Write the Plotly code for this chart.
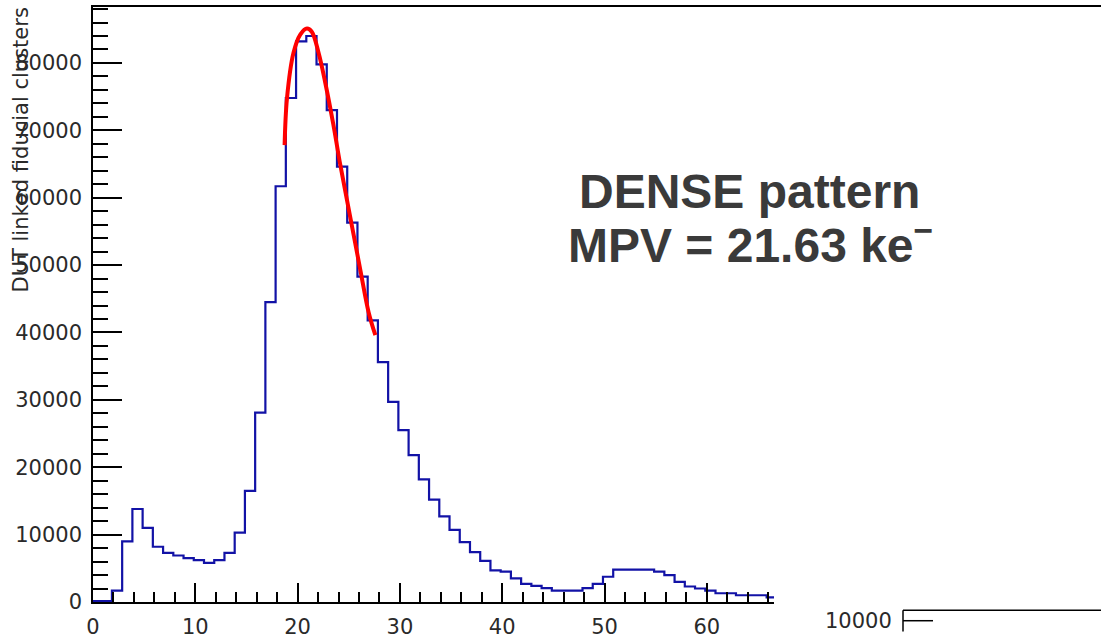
import numpy as np
import plotly.graph_objects as go

# ---------------- data ----------------
bin_index = list(range(0, 67))
bin_offset = -0.15  # lower edge of bin k is k + bin_offset
counts = [150, 150, 1700, 9000, 13800, 11000, 8200, 7300, 6900, 6500,
          6200, 5800, 6200, 7300, 10300, 16500, 28100, 44500, 61700, 74800,
          83200, 84000, 79800, 73000, 64600, 56300, 48300, 41800, 35600, 29700,
          25500, 21800, 18200, 15200, 12700, 10700, 8900, 7400, 6100, 4700,
          4500, 3500, 2700, 2400, 2050, 1700, 1700, 1700, 2050, 2700,
          3750, 4800, 4800, 4800, 4800, 4500, 4000, 3000, 2300, 2000,
          1700, 1300, 1300, 1000, 1000, 1000, 700]

fit_x = [18.73, 18.96, 19.6, 20.26, 20.92, 21.4, 22.05, 22.7, 23.5, 24.17,
         25.15, 26.13, 26.94, 27.6]
fit_y = [67800, 74700, 81500, 84200, 85100, 84600, 81500, 77100, 70800, 64900,
         57100, 49300, 43000, 39600]

x_major_ticks = [0, 10, 20, 30, 40, 50, 60]
x_minor_ticks = [2, 4, 6, 8, 12, 14, 16, 18, 22, 24, 26, 28, 32, 34, 36, 38,
                 42, 44, 46, 48, 52, 54, 56, 58, 62, 64, 66]

y_title = "DUT linked fiducial clusters"
label_line1 = "DENSE pattern"
label_line2 = "MPV = 21.63 ke<sup>−</sup>"
inset_label = "10000"

# ---------------- geometry ----------------
FW, FH = 1101, 639
L, T, B, R = 93, 7, 28, 0
W = FW - L - R
H = FH - T - B
px_per_unit = 10.23
px_per_count = 6.84 / 1000.0
x_max = W / px_per_unit
y_max = H / px_per_count


def pxx(px):
    return (px - L) / W


def pxy(py):
    return (FH - B - py) / H


edges = [k + bin_offset for k in bin_index]
step_x = edges + [edges[-1] + 1]
step_y = counts + [counts[-1]]

fig = go.Figure()
fig.add_trace(go.Scatter(x=step_x, y=step_y, mode="lines",
                         line=dict(color="#1212a6", width=2.2, shape="hv"),
                         hoverinfo="skip", showlegend=False))
fig.add_trace(go.Scatter(x=fit_x, y=fit_y, mode="lines",
                         line=dict(color="#ff0000", width=4, shape="spline"),
                         hoverinfo="skip", showlegend=False))

tickfont = dict(family="DejaVu Sans", size=21, color="#2a2a2a")

fig.update_layout(
    width=FW, height=FH,
    margin=dict(l=L, r=R, t=T, b=B, pad=0),
    paper_bgcolor="white", plot_bgcolor="white",
    showlegend=False,
    xaxis=dict(range=[0, x_max], showgrid=False, zeroline=False,
               showline=True, linecolor="black", linewidth=1.5, mirror=True,
               ticks="inside", ticklen=19, tickwidth=1.5, tickcolor="black",
               tickmode="array", tickvals=x_major_ticks,
               ticktext=[str(v) for v in x_major_ticks],
               tickfont=tickfont, ticklabelstandoff=5,
               minor=dict(ticks="inside", ticklen=10, tickmode="array",
                          tickvals=x_minor_ticks,
                          tickcolor="black", tickwidth=1.5, showgrid=False)),
    yaxis=dict(range=[0, y_max], showgrid=False, zeroline=False,
               showline=True, linecolor="black", linewidth=1.5,
               ticks="inside", ticklen=29, tickwidth=1.5, tickcolor="black",
               dtick=10000, tick0=0, tickformat="d", tickfont=tickfont,
               ticklabelstandoff=5,
               minor=dict(ticks="inside", ticklen=15, dtick=2000, tick0=0,
                          tickcolor="black", tickwidth=1.5, showgrid=False)),
)

# y axis title (ROOT style, aligned at the top end of the axis)
fig.add_annotation(text=y_title, textangle=-90, showarrow=False,
                   xref="paper", yref="paper", x=pxx(21), y=pxy(6),
                   xanchor="center", yanchor="top",
                   font=dict(family="DejaVu Sans", size=21, color="#2a2a2a"))

# fit label text
big = dict(family="Liberation Sans", size=48, color="#3a3a3a")
fig.add_annotation(text="<b>" + label_line1 + "</b>", showarrow=False,
                   xref="paper", yref="paper", x=pxx(749), y=pxy(194),
                   xanchor="center", yanchor="middle", font=big)
fig.add_annotation(text="<b>" + label_line2 + "</b>", showarrow=False,
                   xref="paper", yref="paper", x=pxx(750), y=pxy(246),
                   xanchor="center", yanchor="middle", font=big)

# neighbouring pad overlapping the lower right corner
fig.add_shape(type="rect", xref="paper", yref="paper",
              x0=pxx(774), x1=pxx(FW + 2), y0=pxy(FH + 2), y1=pxy(603),
              fillcolor="white", line=dict(width=0), layer="above")
fig.add_shape(type="line", xref="paper", yref="paper",
              x0=pxx(903), x1=pxx(FW + 2), y0=pxy(619.5), y1=pxy(619.5),
              line=dict(color="black", width=1.5), layer="above")
fig.add_shape(type="line", xref="paper", yref="paper",
              x0=pxx(903), x1=pxx(903), y0=pxy(619.5), y1=pxy(FH + 2),
              line=dict(color="black", width=1.5), layer="above")
fig.add_shape(type="line", xref="paper", yref="paper",
              x0=pxx(903), x1=pxx(933), y0=pxy(630), y1=pxy(630),
              line=dict(color="black", width=1.5), layer="above")
fig.add_annotation(text=inset_label, showarrow=False,
                   xref="paper", yref="paper", x=pxx(894), y=pxy(630),
                   xanchor="right", yanchor="middle", font=tickfont)

fig.write_html("out.html")
